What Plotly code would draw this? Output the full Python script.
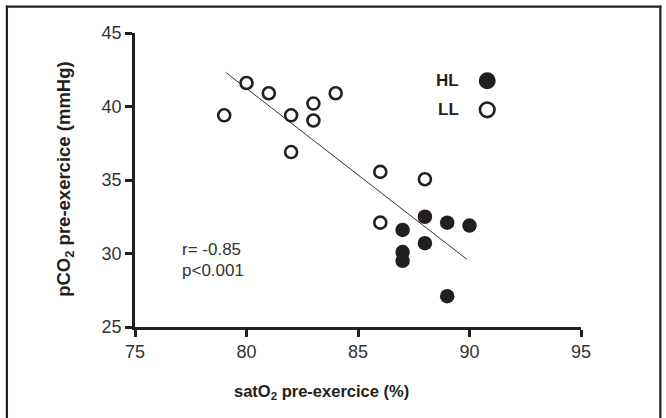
import plotly.graph_objects as go

# Data
ll_x = [79, 80, 81, 82, 82, 83, 83, 84, 86, 86, 88]
ll_y = [39.4, 41.6, 40.9, 39.4, 36.9, 40.2, 39.05, 40.9, 35.55, 32.1, 35.05]
hl_x = [87, 87, 87, 88, 88, 89, 89, 90]
hl_y = [31.6, 30.1, 29.5, 32.5, 30.7, 32.1, 27.1, 31.9]
fit_x = [79.07, 89.88]
fit_y = [42.32, 29.61]

x_ticks = [75, 80, 85, 90, 95]
y_ticks = [25, 30, 35, 40, 45]

INK = "#231f20"
TXT = "#333333"
FONT = "Liberation Sans, Arial, sans-serif"

# plot area geometry in pixels
L, R, T, B = 135, 580.7, 33.3, 327.0
W, H = 666, 418
PW, PH = R - L, B - T


def px(x):
    return (x - L) / PW


def py(y):
    return 1 - (y - T) / PH


fig = go.Figure()
fig.add_trace(go.Scatter(x=fit_x, y=fit_y, mode="lines",
                         line=dict(color=TXT, width=1), showlegend=False,
                         hoverinfo="skip"))
fig.add_trace(go.Scatter(x=ll_x, y=ll_y, mode="markers", name="LL",
                         marker=dict(size=12, color="white", symbol="circle",
                                     line=dict(color=INK, width=2.6)),
                         showlegend=False))
fig.add_trace(go.Scatter(x=hl_x, y=hl_y, mode="markers", name="HL",
                         marker=dict(size=14.5, color=INK, symbol="circle",
                                     line=dict(width=0)),
                         showlegend=False))

axis_common = dict(showgrid=False, zeroline=False, showline=True,
                   linecolor=INK, linewidth=2.6, ticks="outside",
                   ticklen=7, tickwidth=2.6, tickcolor=INK,
                   tickfont=dict(family=FONT, size=18, color=TXT))

fig.update_xaxes(range=[75, 95], tickvals=x_ticks, **axis_common)
fig.update_yaxes(range=[25, 45], tickvals=y_ticks, **axis_common)

annotations = [
    dict(x=px(321), y=py(392), xref="paper", yref="paper",
         text="<b>satO<sub>2</sub> pre-exercice (%)</b>", showarrow=False,
         font=dict(family=FONT, size=16.5, color=INK),
         xanchor="center", yanchor="middle"),
    dict(x=px(65), y=py(179), xref="paper", yref="paper",
         text="<b>pCO<sub>2</sub> pre-exercice (mmHg)</b>", showarrow=False,
         textangle=-90,
         font=dict(family=FONT, size=18.5, color=INK),
         xanchor="center", yanchor="middle"),
    dict(x=px(180), y=py(250), xref="paper", yref="paper",
         text="r= -0.85", showarrow=False,
         font=dict(family=FONT, size=17, color=TXT),
         xanchor="left", yanchor="middle"),
    dict(x=px(180), y=py(271), xref="paper", yref="paper",
         text="p<0.001", showarrow=False,
         font=dict(family=FONT, size=17, color=TXT),
         xanchor="left", yanchor="middle"),
    dict(x=px(461), y=py(81), xref="paper", yref="paper",
         text="<b>HL</b>", showarrow=False,
         font=dict(family=FONT, size=17, color=INK),
         xanchor="right", yanchor="middle"),
    dict(x=px(461), y=py(110), xref="paper", yref="paper",
         text="<b>LL</b>", showarrow=False,
         font=dict(family=FONT, size=17, color=INK),
         xanchor="right", yanchor="middle"),
]

shapes = [
    # legend symbols
    dict(type="circle", xref="paper", yref="paper",
         xsizemode="pixel", ysizemode="pixel",
         xanchor=px(487), yanchor=py(81),
         x0=-8.5, x1=8.5, y0=-8.5, y1=8.5,
         fillcolor=INK, line=dict(width=0)),
    dict(type="circle", xref="paper", yref="paper",
         xsizemode="pixel", ysizemode="pixel",
         xanchor=px(487), yanchor=py(110),
         x0=-7.3, x1=7.3, y0=-7.3, y1=7.3,
         fillcolor="white", line=dict(color=INK, width=2.6)),
    # outer frame
    dict(type="line", xref="paper", yref="paper",
         x0=px(7), x1=px(7), y0=py(6), y1=py(430),
         line=dict(color=INK, width=2.2)),
    dict(type="line", xref="paper", yref="paper",
         x0=px(6), x1=px(661), y0=py(7), y1=py(7),
         line=dict(color=INK, width=2.2)),
    dict(type="line", xref="paper", yref="paper",
         x0=px(660), x1=px(660), y0=py(6), y1=py(430),
         line=dict(color=INK, width=2.2)),
]

fig.update_layout(
    width=W, height=H,
    margin=dict(l=L, r=W - R, t=T, b=H - B),
    paper_bgcolor="white", plot_bgcolor="white",
    annotations=annotations, shapes=shapes,
    showlegend=False,
)

fig.write_html("out.html",
               config={"displayModeBar": False},
               post_script="document.body.style.margin='0';"
                           "document.body.style.overflow='hidden';")
